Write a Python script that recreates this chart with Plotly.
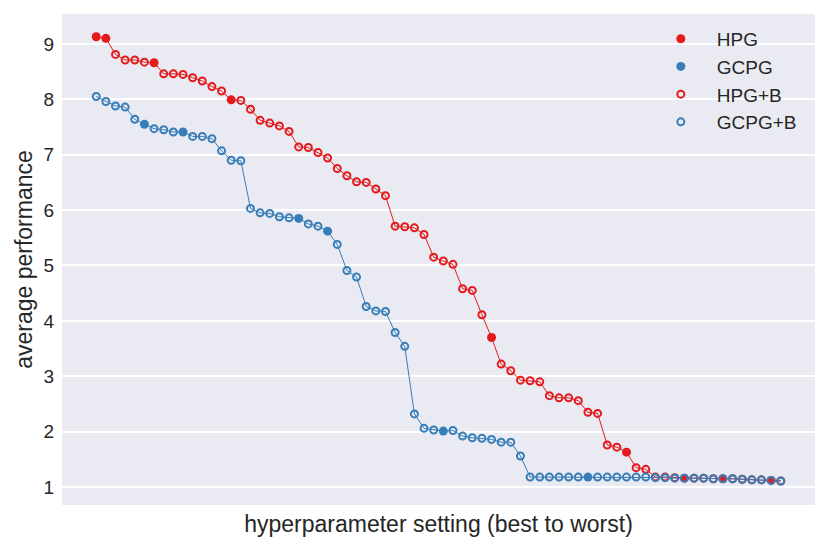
import plotly.graph_objects as go

# average performance per hyperparameter setting, sorted best to worst
hpg_values = [9.13, 9.10, 8.81, 8.71, 8.71, 8.67, 8.66, 8.46, 8.46, 8.45,
              8.39, 8.33, 8.23, 8.15, 7.99, 7.98, 7.82, 7.62, 7.57, 7.52,
              7.42, 7.14, 7.13, 7.04, 6.94, 6.75, 6.62, 6.51, 6.50, 6.38,
              6.26, 5.71, 5.70, 5.68, 5.56, 5.15, 5.08, 5.02, 4.58, 4.55,
              4.11, 3.70, 3.22, 3.10, 2.93, 2.92, 2.90, 2.65, 2.61, 2.61,
              2.56, 2.35, 2.33, 1.76, 1.72, 1.63, 1.35, 1.32, 1.18, 1.18,
              1.17, 1.16, 1.16, 1.16, 1.15, 1.15, 1.15, 1.14, 1.13, 1.13,
              1.12, 1.11]
gcpg_values = [8.05, 7.96, 7.88, 7.86, 7.64, 7.55, 7.47, 7.45, 7.41, 7.41,
               7.33, 7.33, 7.29, 7.07, 6.90, 6.89, 6.03, 5.95, 5.94, 5.88,
               5.86, 5.85, 5.75, 5.71, 5.62, 5.38, 4.91, 4.79, 4.26, 4.18,
               4.17, 3.79, 3.54, 2.32, 2.06, 2.03, 2.01, 2.02, 1.92, 1.89,
               1.88, 1.86, 1.81, 1.81, 1.56, 1.18, 1.18, 1.18, 1.18, 1.18,
               1.18, 1.18, 1.18, 1.18, 1.18, 1.18, 1.18, 1.18, 1.17, 1.17,
               1.16, 1.16, 1.16, 1.16, 1.15, 1.15, 1.15, 1.14, 1.13, 1.13,
               1.12, 1.11]
# settings without baseline (filled markers)
hpg_plain = [0, 1, 6, 14, 41, 55, 61, 65, 70]
gcpg_plain = [5, 9, 21, 24, 36, 51]

red = "#e41a1c"
blue = "#377eb8"

fig = go.Figure()

# connecting lines
for vals, col in [(hpg_values, red), (gcpg_values, blue)]:
    fig.add_trace(go.Scatter(x=list(range(len(vals))), y=vals, mode="lines",
                             line=dict(color=col, width=1), showlegend=False,
                             hoverinfo="skip"))

def split(vals, plain):
    xs_p = [i for i in range(len(vals)) if i in plain]
    xs_b = [i for i in range(len(vals)) if i not in plain]
    return xs_p, [vals[i] for i in xs_p], xs_b, [vals[i] for i in xs_b]

hx, hy, hbx, hby = split(hpg_values, hpg_plain)
gx, gy, gbx, gby = split(gcpg_values, gcpg_plain)

fig.add_trace(go.Scatter(x=hx, y=hy, mode="markers", name="HPG",
                         marker=dict(color=red, size=9, line_width=0)))
fig.add_trace(go.Scatter(x=gx, y=gy, mode="markers", name="GCPG",
                         marker=dict(color=blue, size=9, line_width=0)))
fig.add_trace(go.Scatter(x=hbx, y=hby, mode="markers", name="HPG+B",
                         marker=dict(color=red, size=7, symbol="circle-open",
                                     line_width=2)))
fig.add_trace(go.Scatter(x=gbx, y=gby, mode="markers", name="GCPG+B",
                         marker=dict(color=blue, size=7, symbol="circle-open",
                                     line_width=2)))

# page body adds an 8px offset, so the figure is a bit smaller than the window
fig.update_layout(
    width=822, height=541,
    margin=dict(l=54, r=15, t=6, b=44),
    plot_bgcolor="#eaeaf2", paper_bgcolor="white",
    font=dict(family="Liberation Sans, Arial, sans-serif", color="#262626"),
    legend=dict(x=0.774, y=0.988, xanchor="left", yanchor="top",
                bgcolor="rgba(0,0,0,0)", font=dict(size=19),
                itemwidth=62, tracegroupgap=0),
)
fig.update_xaxes(range=[-3.55, 74.55], showticklabels=False, showgrid=False,
                 zeroline=False, showline=False, automargin=False,
                 title=dict(text="hyperparameter setting (best to worst)",
                            font=dict(size=23), standoff=10))
fig.update_yaxes(range=[0.676, 9.54], tickvals=[1, 2, 3, 4, 5, 6, 7, 8, 9],
                 gridcolor="white", gridwidth=1.5, zeroline=False, showline=False,
                 automargin=False, tickfont=dict(size=19), ticklabelstandoff=7,
                 title=dict(text="average performance", font=dict(size=23),
                            standoff=4))

fig.write_html("out.html")
